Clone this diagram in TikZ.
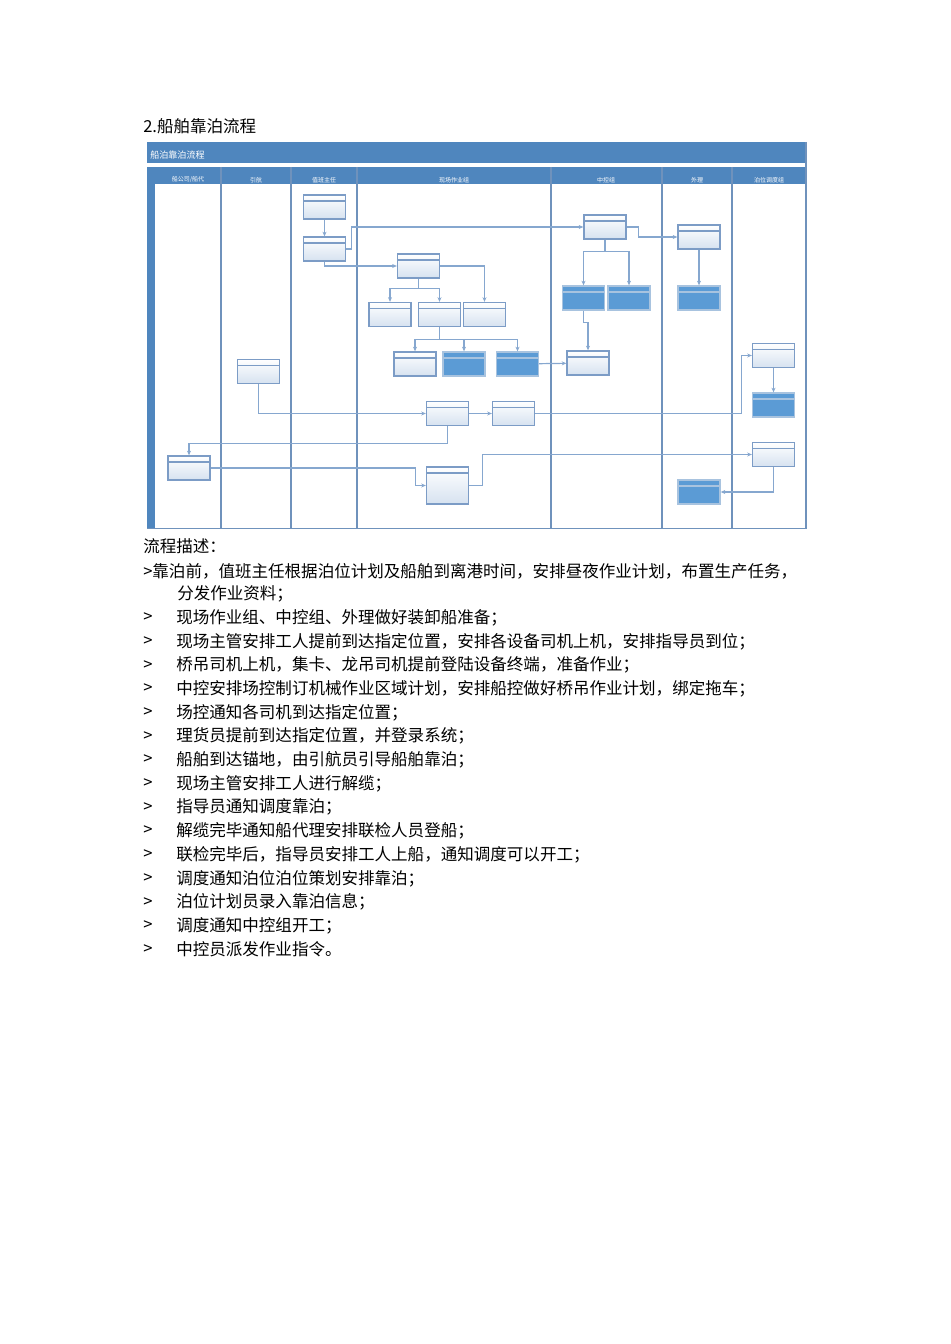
\documentclass[tikz,border=0pt]{standalone}
\usepackage{fontspec}
\setmainfont{Noto Sans CJK SC}
\usetikzlibrary{arrows.meta, positioning}
\definecolor{hdBlue}{HTML}{4F86BE}
\definecolor{laneLine}{HTML}{6F92BC}
\definecolor{flowLine}{HTML}{86A7CF}
\definecolor{boxEdge}{HTML}{7C9CC6}
\definecolor{boxShade}{HTML}{D6E2F0}
\definecolor{taskBlue}{HTML}{5B9BD5}
\definecolor{taskEdge}{HTML}{A8C3DF}
\tikzset{
  lane/.style     = {laneLine, line width=1.1pt},
  flow/.style     = {-{Stealth[length=3.5pt,width=3pt]}, flowLine, line width=0.9pt},
  boxbase/.style  = {line width=1pt, minimum width=31.5pt, minimum height=18pt, inner sep=0pt},
  proc/.style     = {boxbase, draw=boxEdge, top color=white, bottom color=boxShade,
                     path picture={\draw[boxEdge, line width=0.8pt]
                       ([yshift=-4.5pt]path picture bounding box.north west) --
                       ([yshift=-4.5pt]path picture bounding box.north east);}},
  task/.style     = {boxbase, draw=taskEdge, fill=taskBlue,
                     path picture={\draw[taskEdge, line width=0.8pt]
                       ([yshift=-4.5pt]path picture bounding box.north west) --
                       ([yshift=-4.5pt]path picture bounding box.north east);}},
  lanelbl/.style  = {font=\fontsize{4.5}{5}\selectfont, white, inner sep=0pt},
  barlbl/.style   = {font=\fontsize{6.8}{8}\selectfont, white, anchor=west, inner sep=0pt},
  bodytxt/.style  = {font=\fontsize{12.4}{14}\selectfont, anchor=west, inner sep=0pt},
}
\begin{document}
\begin{tikzpicture}[x=0.75pt,y=-0.75pt]
  \useasboundingbox (0,0) rectangle (950,1344);
  % heading and swimlane frame
  \node[bodytxt] (ttl) at (143,126) {2.船舶靠泊流程};
  \fill[hdBlue] (147,142) rectangle (806,163);
  \fill[hdBlue] (147,167) rectangle (806,184);
  \fill[hdBlue] (147,167) rectangle (155,529);
  \node[barlbl] (bar) at (150,155) {船泊靠泊流程};
  \draw[lane] (806,142) -- (806,529);
  \draw[lane] (147,528.5) -- (806,528.5);
  \foreach \x in {221,291,357,551,662,732}
    \draw[lane] (\x,167) -- (\x,528);
  \foreach \x/\name [count=\i] in {188/{船公司/船代}, 256/引航, 324/值班主任, 454/现场作业组,
                                   606/中控组, 697/外理, 769/泊位调度组}
    \node[lanelbl] (ln\i) at (\x,180) {\name};

  % boxes
  \node[proc] (B1) at (324.5,207) {};
  \node[proc] (B2) at (324.5,249) {};
  \node[proc] (B3) at (418.5,266) {};
  \node[proc] (R1) at (390,314.5) {};
  \node[proc] (R2) at (439.5,314.5) {};
  \node[proc] (R3) at (484.5,314.5) {};
  \node[proc] (S1) at (415,364) {};
  \node[task] (S2) at (464,364) {};
  \node[task] (S3) at (517.5,364) {};
  \node[proc] (T)  at (588,363) {};
  \node[proc] (C1) at (605,227) {};
  \node[task] (C2) at (583.5,298) {};
  \node[task] (C3) at (629,298) {};
  \node[proc] (W1) at (699,237) {};
  \node[task] (W2) at (699,298) {};
  \node[task] (W3) at (699,492) {};
  \node[proc] (D1) at (773.5,355.5) {};
  \node[task] (D2) at (773.5,405) {};
  \node[proc] (D3) at (773.5,454.5) {};
  \node[proc] (P1) at (258.5,371.5) {};
  \node[proc] (M1) at (447.5,413.5) {};
  \node[proc] (M2) at (513.5,413.5) {};
  \node[proc] (F1) at (189,468) {};
  \node[proc, minimum height=27.75pt] (M3) at (447.5,485.5) {};

  % connectors
  \draw[flow] (B1) -- (B2);
  \draw[flow] (B2.east) -- ++(5,0) |- (C1.west);
  \draw[flow] (B2.south) |- (B3.west);
  \draw[flow] (B3.east) -| (R3.north);
  \draw[flow] (B3.south) -- ++(0,10) -| (R1.north);
  \draw[flow] (B3.south) -- ++(0,10) -| (R2.north);
  \draw[flow] (R2.south) -- ++(0,12) -| (S1.north);
  \draw[flow] (R2.south) -- ++(0,12) -| (S2.north);
  \draw[flow] (R2.south) -- ++(0,12) -| (S3.north);
  \draw[flow] (S3) -- (T);
  \draw[flow] (C1.east) -- ++(12,0) |- (W1.west);
  \draw[flow] (C1.south) -- ++(0,12) -| (C2.north);
  \draw[flow] (C1.south) -- ++(0,12) -| (C3.north);
  \draw[flow] (C2.south) -- ++(0,12) -| (T.north);
  \draw[flow] (W1) -- (W2);
  \draw[flow] (D1) -- (D2);
  \draw[flow] (D3.south) |- (W3.east);
  \draw[flow] (P1.south) |- (M1.west);
  \draw[flow] (M1) -- (M2);
  \draw[flow] (M2.east) -- ++(206.5,0) |- (D1.west);
  \draw[flow] (M1.south) -- ++(0,17) -| (F1.north);
  \draw[flow] (F1.east) -- ++(205,0) |- (M3.west);
  \draw[flow] (M3.east) -- ++(13,0) |- (D3.west);

  % description
  \node[bodytxt] (desc) at (143,546) {流程描述：};
  \node[bodytxt] (s0) at (143,571) {>靠泊前，值班主任根据泊位计划及船舶到离港时间，安排昼夜作业计划，布置生产任务，};
  \node[bodytxt] (s0b) at (177,594) {分发作业资料；};
  \foreach \txt [count=\i] in {现场作业组、中控组、外理做好装卸船准备；,
      现场主管安排工人提前到达指定位置，安排各设备司机上机，安排指导员到位；,
      桥吊司机上机，集卡、龙吊司机提前登陆设备终端，准备作业；,
      中控安排场控制订机械作业区域计划，安排船控做好桥吊作业计划，绑定拖车；,
      场控通知各司机到达指定位置；,
      理货员提前到达指定位置，并登录系统；,
      船舶到达锚地，由引航员引导船舶靠泊；,
      现场主管安排工人进行解缆；,
      指导员通知调度靠泊；,
      解缆完毕通知船代理安排联检人员登船；,
      联检完毕后，指导员安排工人上船，通知调度可以开工；,
      调度通知泊位泊位策划安排靠泊；,
      泊位计划员录入靠泊信息；,
      调度通知中控组开工；,
      中控员派发作业指令。}
  {
    \node[bodytxt] (g\i) at (143,{594+23.7*\i}) {>};
    \node[bodytxt] (s\i) at (176,{594+23.7*\i}) {\txt};
  }
\end{tikzpicture}
\end{document}
